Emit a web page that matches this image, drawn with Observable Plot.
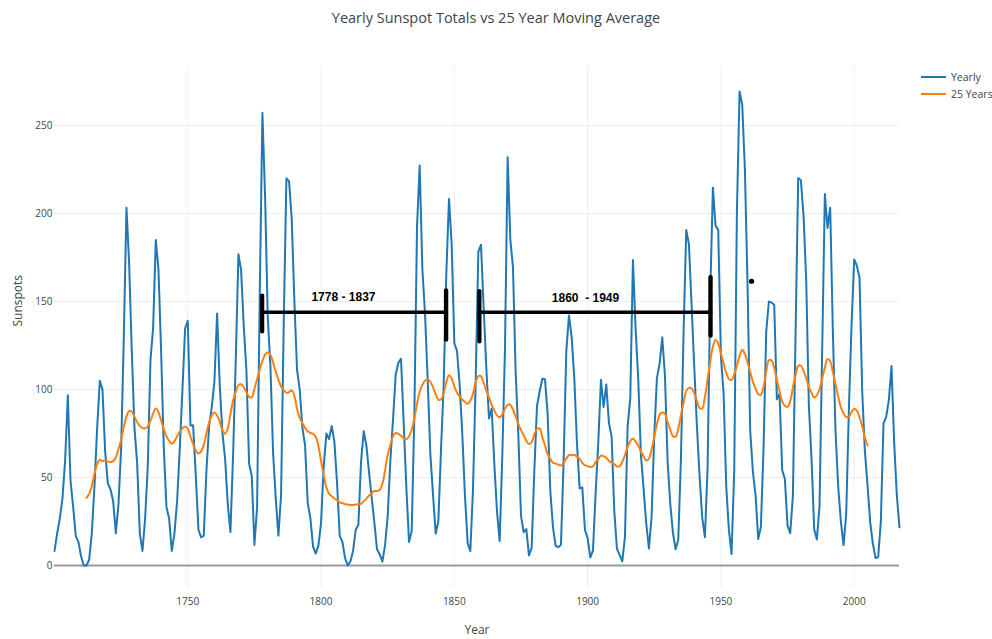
<!DOCTYPE html>
<html><head><meta charset="utf-8">
<script src="https://cdn.jsdelivr.net/npm/d3@7"></script>
<script src="https://cdn.jsdelivr.net/npm/@observablehq/plot@0.6"></script>
<style>
  html,body{margin:0;padding:0;background:#fff;}
  #wrap{position:relative;width:992px;height:639px;font-family:"Open Sans",sans-serif;color:#444;}
  #title{position:absolute;left:0;top:8px;width:992px;text-align:center;font-size:14.5px;line-height:20px;}
  #legend{position:absolute;left:921px;top:69px;font-size:10.5px;}
  .lg{display:flex;align-items:center;height:16.5px;white-space:nowrap;}
  .lg svg{margin-right:5px;}
  #chart{position:absolute;left:0;top:0;}
</style>
</head><body>
<div id="wrap">
  <div id="chart"></div>
  <div id="title">Yearly Sunspot Totals vs 25 Year Moving Average</div>
  <div id="legend"></div>
</div>
<script>
// ---- data -------------------------------------------------------------
const firstYear = 1700;
const yearly = [8.3,18.3,26.7,38.3,60.0,96.7,48.3,33.3,16.7,13.3,5.0,0.0,0.0,3.3,18.3,45.0,78.3,105.0,100.0,65.0,46.7,43.3,36.7,18.3,35.0,66.7,130.0,203.3,171.7,121.7,78.3,58.3,18.3,8.3,26.7,56.7,116.7,135.0,185.0,168.3,121.7,66.7,33.3,26.7,8.3,18.3,36.7,66.7,100.0,134.8,139.0,79.5,79.7,51.2,20.3,16.0,17.0,54.0,79.3,90.0,104.8,143.2,102.0,75.2,60.7,34.8,19.0,63.0,116.3,176.8,168.0,136.0,110.8,58.0,51.0,11.7,33.0,154.2,257.3,209.8,141.3,113.5,64.2,38.0,17.0,40.2,138.2,220.0,218.2,196.8,149.8,111.0,100.0,78.2,68.3,35.5,26.7,10.7,6.8,11.3,24.2,56.7,75.0,71.8,79.2,70.3,46.8,16.8,13.5,4.2,0.0,2.3,8.3,20.3,23.2,59.0,76.3,68.3,52.9,38.5,24.2,9.2,6.3,2.2,11.4,28.2,59.9,83.0,108.5,115.2,117.4,80.8,44.3,13.4,19.5,85.8,192.7,227.3,168.7,143.0,105.5,63.3,40.3,18.1,25.1,65.8,102.7,166.3,208.3,182.5,126.3,122.0,102.7,74.1,39.0,12.7,8.2,43.4,104.4,178.3,182.2,146.6,112.1,83.5,89.2,57.8,30.7,13.9,62.8,123.6,232.0,185.3,169.2,110.1,74.5,28.3,18.9,20.7,5.7,10.0,53.7,90.5,99.0,106.1,105.8,86.3,42.4,21.8,11.2,10.4,11.8,59.5,121.7,142.0,130.0,106.6,69.4,43.8,44.4,20.2,15.7,4.6,8.5,40.8,70.1,105.5,90.1,102.8,80.9,73.2,30.9,9.5,6.0,2.4,16.1,79.0,95.0,173.6,134.6,105.7,62.7,43.5,23.7,9.7,27.9,74.0,106.5,114.7,129.7,108.2,59.4,35.1,18.6,9.2,14.6,60.2,132.8,190.6,182.6,148.0,113.0,79.2,50.8,27.1,16.1,55.3,154.3,214.7,193.0,190.7,118.9,98.3,45.0,20.1,6.6,54.2,200.7,269.3,261.7,225.1,159.0,76.4,53.4,39.9,15.0,22.0,66.8,132.9,150.0,149.4,148.0,94.4,97.6,54.1,49.2,22.5,18.4,39.3,131.0,220.1,218.9,198.9,162.4,91.0,60.5,20.6,14.8,33.9,123.0,211.1,191.8,203.3,133.0,76.1,44.9,25.1,11.6,28.9,88.3,136.3,173.9,170.4,163.6,99.3,65.3,45.8,24.7,12.6,4.2,4.8,24.9,80.8,84.5,94.0,113.3,69.8,39.8,21.7];

const avgFirstYear = 1712;
const avg25 = [
  38.4,40.7,45.2,52.3,57.6,60.1,59.3,59.7,59.1,58.8,
  59.3,61.4,66.1,71.5,78.7,84.7,87.8,87.3,84.5,81.5,
  79.3,78.1,77.9,79.1,82.3,86.3,89.2,87.2,82.3,77.4,
  73.4,70.9,69.2,70.7,73.5,76.0,78.0,79.0,77.7,73.3,
  69.0,65.5,63.6,64.8,68.4,75.1,81.1,85.1,86.9,85.2,
  81.8,76.7,74.9,77.9,86.1,93.7,98.7,102.5,103.0,101.3,
  98.4,95.8,95.6,100.3,106.0,111.5,116.1,119.8,121.2,119.7,
  115.4,110.1,105.7,101.7,99.7,98.1,98.6,99.5,96.3,88.9,
  83.7,80.9,78.2,76.3,75.3,74.8,73.2,67.8,59.3,51.4,
  44.4,40.8,39.4,38.1,37.1,35.9,35.5,34.8,34.6,34.4,
  34.4,34.6,34.7,35.0,36.5,38.0,39.8,41.2,42.3,42.3,
  42.9,46.3,54.0,62.7,68.6,73.4,75.3,74.8,73.7,72.3,
  71.7,73.4,77.1,83.5,91.8,98.6,102.5,105.0,105.8,104.4,
  101.4,97.2,94.3,94.3,97.9,104.3,108.1,106.3,101.7,98.3,
  96.1,94.2,92.9,91.8,93.6,97.6,104.2,107.5,107.6,103.7,
  99.4,95.5,91.3,88.1,85.3,84.2,85.8,89.1,91.3,91.4,
  88.5,84.7,80.5,76.9,74.0,70.8,69.0,70.1,74.5,77.6,
  77.9,72.9,68.2,63.2,60.6,58.4,57.9,57.3,56.8,58.2,
  60.7,62.7,62.7,62.9,61.9,60.5,58.3,57.0,56.4,56.0,
  56.3,58.9,60.4,62.4,62.1,61.2,59.4,58.4,57.6,56.2,
  56.5,58.8,62.9,67.2,70.7,72.2,70.4,68.2,64.8,62.0,
  59.6,60.8,65.7,73.1,80.3,85.6,86.9,86.3,81.4,77.1,
  73.5,73.2,77.7,85.3,92.6,99.1,100.9,100.6,97.8,93.4,
  89.4,89.2,95.8,105.8,115.9,124.3,128.3,126.0,120.5,114.8,
  109.5,105.9,105.4,108.7,113.6,118.9,122.6,120.2,115.5,110.0,
  104.3,100.5,97.3,97.0,101.5,110.0,116.6,116.5,112.3,105.4,
  98.8,93.3,90.8,90.1,93.4,101.2,108.0,113.5,113.5,110.5,
  106.4,101.4,98.1,95.4,96.7,100.2,106.3,112.4,117.3,116.1,
  109.9,103.0,96.0,90.0,86.5,84.3,84.5,87.1,89.1,88.0,
  84.1,79.2,72.6,68.2
];

const seriesNames = ["Yearly", "25 Years"];
const seriesColors = ["#1f77b4", "#ff7f0e"];
const xTicks = [1750, 1800, 1850, 1900, 1950, 2000];
const yTicks = [0, 50, 100, 150, 200, 250];

// hand-drawn span annotations (data units)
const spanLabels = ["1778 - 1837", "1860\u00a0 - 1949"];
const spanFrom = [1777.9, 1859.4];
const spanTo = [1846.9, 1946.1];
const spanLevel = [143.9, 143.9];
const spanFromLow = [133.0, 127.3];
const spanFromHigh = [153.4, 155.9];
const spanToLow = [128.4, 130.7];
const spanToHigh = [156.3, 163.8];
const spanLabelYear = [1808.4, 1899.2];
const spanLabelValue = [152.3, 151.9];
const markDotYear = [1961.5];
const markDotValue = [161.5];

// ---- tables ------------------------------------------------------------
const yearlyRows = yearly.map((v, i) => ({year: firstYear + i, value: v}));
const avgRows = avg25.map((v, i) => ({year: avgFirstYear + i, value: v}));
const segs = [];
spanLabels.forEach((_, i) => {
  segs.push({x1: spanFrom[i], x2: spanTo[i], y1: spanLevel[i], y2: spanLevel[i], w: 3.6});
  segs.push({x1: spanFrom[i], x2: spanFrom[i], y1: spanFromLow[i], y2: spanFromHigh[i], w: 4.2});
  segs.push({x1: spanTo[i], x2: spanTo[i], y1: spanToLow[i], y2: spanToHigh[i], w: 4.4});
});
const labels = spanLabels.map((t, i) => ({text: t, x: spanLabelYear[i], y: spanLabelValue[i]}));
const dots = markDotYear.map((x, i) => ({x, y: markDotValue[i]}));

// ---- chart -------------------------------------------------------------
const chart = Plot.plot({
  width: 992,
  height: 639,
  marginTop: 65,
  marginBottom: 52,
  marginLeft: 54,
  marginRight: 93,
  style: {fontFamily: "'Open Sans', sans-serif", fontSize: "10px", color: "#444", background: "transparent", overflow: "visible"},
  x: {domain: [1700, 2017], label: null},
  y: {domain: [-12.5, 284.1], label: null},
  marks: [
    Plot.gridX(xTicks, {stroke: "#eeeeee", strokeOpacity: 1, strokeWidth: 1}),
    Plot.gridY(yTicks.filter(d => d !== 0), {stroke: "#eeeeee", strokeOpacity: 1, strokeWidth: 1}),
    Plot.ruleY([0], {stroke: "#9a9a9a", strokeWidth: 2}),
    Plot.axisX(xTicks, {tickSize: 0, tickPadding: 10, tickFormat: d => String(d), label: null, fill: "#444"}),
    Plot.axisY(yTicks, {tickSize: 0, tickPadding: 2, label: null, fill: "#444"}),
    Plot.line(yearlyRows, {x: "year", y: "value", stroke: seriesColors[0], strokeWidth: 2}),
    Plot.line(avgRows, {x: "year", y: "value", stroke: seriesColors[1], strokeWidth: 2, curve: "catmull-rom"}),
    Plot.link(segs, {x1: "x1", y1: "y1", x2: "x2", y2: "y2", stroke: "#000", strokeWidth: d => d.w, strokeLinecap: "round"}),
    Plot.dot(dots, {x: "x", y: "y", r: 2.6, fill: "#000", stroke: null}),
    Plot.text(labels, {x: "x", y: "y", text: "text", fontFamily: "'Liberation Sans', Arial, sans-serif", fontWeight: "bold", fontSize: 12, fill: "#000"}),
    Plot.text(["Sunspots"], {text: d => d, frameAnchor: "left", dx: -36, rotate: -90, fontSize: 12, fill: "#444"}),
    Plot.text(["Year"], {text: d => d, frameAnchor: "bottom", dy: 46, fontSize: 12, fill: "#444"})
  ]
});
document.getElementById("chart").append(chart);

// ---- legend ------------------------------------------------------------
const legend = document.getElementById("legend");
seriesNames.forEach((name, i) => {
  const row = document.createElement("div");
  row.className = "lg";
  row.innerHTML = `<svg width="25" height="6"><line x1="0" x2="25" y1="3" y2="3" stroke="${seriesColors[i]}" stroke-width="2"/></svg><span>${name}</span>`;
  legend.append(row);
});
</script>
</body></html>
